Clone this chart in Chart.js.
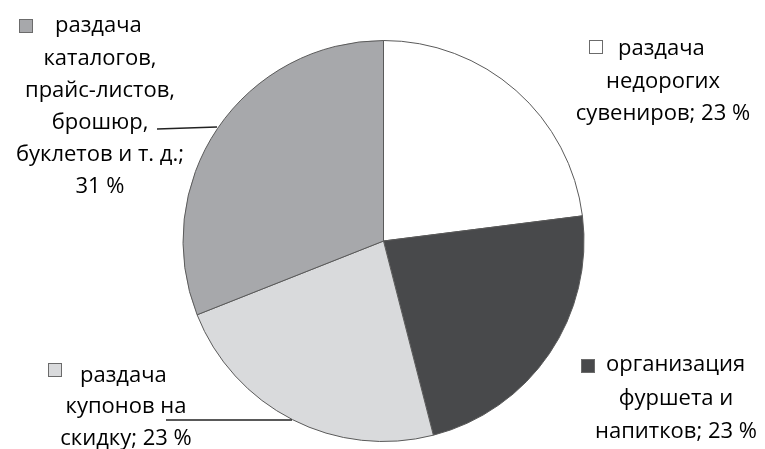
<!DOCTYPE html>
<html><head><meta charset="utf-8">
<script src="https://cdn.jsdelivr.net/npm/chart.js@4/dist/chart.umd.min.js"></script>
<style>html,body{margin:0;padding:0;background:#fff}#wrap{width:765px;height:449px}</style>
</head><body><div id="wrap"><canvas id="c" width="765" height="449"></canvas></div>
<script>
const categories = [
  "раздача недорогих сувениров",
  "организация фуршета и напитков",
  "раздача купонов на скидку",
  "раздача каталогов, прайс-листов, брошюр, буклетов и т. д."
];
const values = [23, 23, 23, 31];
const colors = ["#ffffff", "#48494b", "#d9dadc", "#a7a8ab"];
const labelLines = [
  ["раздача", "недорогих", "сувениров; 23 %"],
  ["организация", "фуршета и", "напитков; 23 %"],
  ["раздача", "купонов на", "скидку; 23 %"],
  ["раздача", "каталогов,", "прайс-листов,", "брошюр,", "буклетов и т. д.;", "31 %"]
];

const FONT = '22px "Open Sans", Lato, sans-serif';
// label layout: box, first-line text x, centre x for other lines, baselines
const labelLayout = [
  {box:[589,40], firstX:618, cx:663, ys:[55,88,120]},
  {box:[581,359], firstX:606, cx:676, ys:[371,405,438]},
  {box:[48,363], firstX:80, cx:126, ys:[382,413,445]},
  {box:[19,19], firstX:55, cx:100, ys:[32,65,97,129,161,193]}
];
const leaders = [null, null, [[166,420],[292,420]], [[157,129],[217,127]]];

const labelPlugin = {
  id: 'sliceLabels',
  afterDraw(chart) {
    const ctx = chart.ctx;
    ctx.save();
    ctx.font = FONT;
    ctx.fillStyle = '#000';
    ctx.textBaseline = 'alphabetic';
    labelLines.forEach((lines, i) => {
      const L = labelLayout[i];
      // legend key
      ctx.fillStyle = colors[i];
      ctx.fillRect(L.box[0], L.box[1], 14, 14);
      ctx.strokeStyle = '#6b6b6b';
      ctx.lineWidth = 1;
      ctx.strokeRect(L.box[0]+0.5, L.box[1]+0.5, 13, 13);
      ctx.fillStyle = '#000';
      lines.forEach((t, j) => {
        if (j === 0) { ctx.textAlign = 'left'; ctx.fillText(t, L.firstX, L.ys[0]); }
        else { ctx.textAlign = 'center'; ctx.fillText(t, L.cx, L.ys[j]); }
      });
      const ld = leaders[i];
      if (ld) {
        ctx.beginPath();
        ctx.moveTo(ld[0][0], ld[0][1]);
        ctx.lineTo(ld[1][0], ld[1][1]);
        ctx.strokeStyle = '#222';
        ctx.lineWidth = 1.5;
        ctx.stroke();
      }
    });
    ctx.restore();
  }
};

new Chart(document.getElementById('c'), {
  type: 'pie',
  data: {
    labels: categories,
    datasets: [{
      data: values,
      backgroundColor: colors,
      borderColor: '#5a5a5a',
      borderWidth: 1
    }]
  },
  options: {
    responsive: false,
    animation: false,
    layout: {padding: {top: 40, bottom: 7, left: 2, right: 0}},
    plugins: {legend: {display: false}, tooltip: {enabled: false}}
  },
  plugins: [labelPlugin]
});
</script></body></html>
